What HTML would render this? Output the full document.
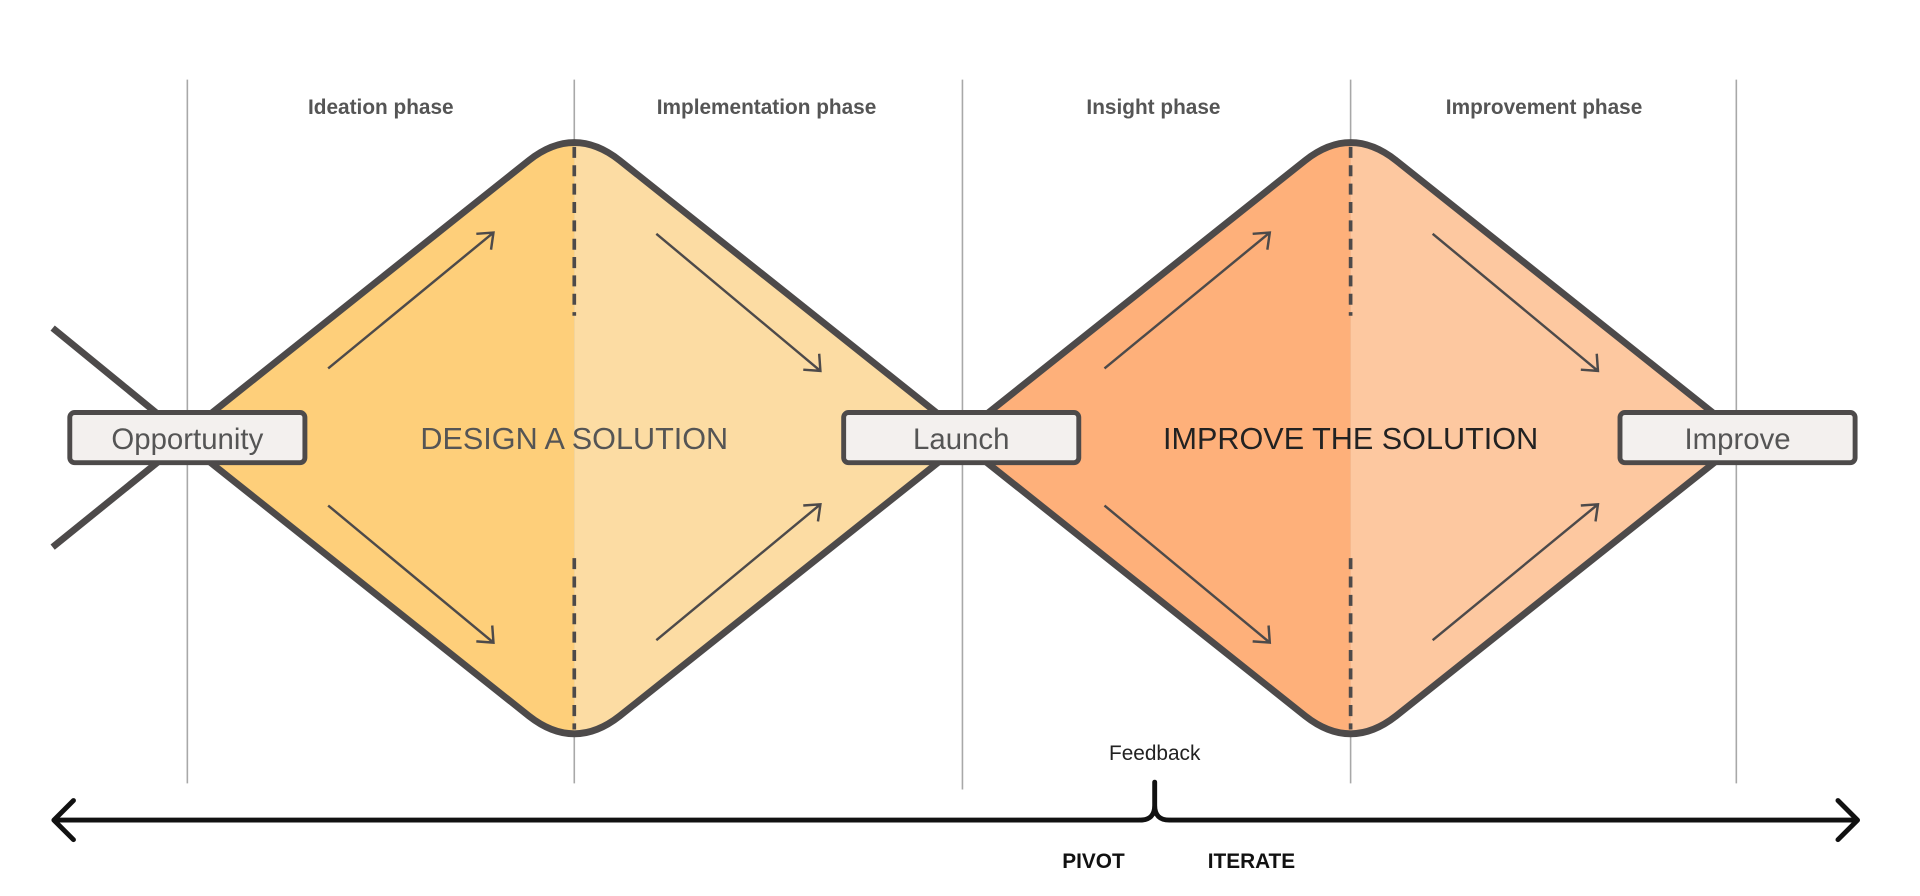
<!DOCTYPE html>
<html><head><meta charset="utf-8"><style>
html,body{margin:0;padding:0;background:#fff;}
svg{display:block;}
text{font-family:"Liberation Sans","DejaVu Sans",sans-serif;}
</style></head><body>
<svg width="1920" height="896" viewBox="0 0 1568 732" preserveAspectRatio="none" xmlns="http://www.w3.org/2000/svg">
<defs>
<clipPath id="d1"><path d="M147 358 L432 131 Q469 102 506 131 L791 358 L506 585 Q469 614 432 585 Z"/></clipPath>
<clipPath id="d2"><path d="M781 358 L1066 131 Q1103 102 1140 131 L1425 358 L1140 585 Q1103 614 1066 585 Z"/></clipPath>
</defs>
<g stroke="#a8a8a8" stroke-width="1.3">
<line x1="153" y1="65" x2="153" y2="640"/>
<line x1="469" y1="65" x2="469" y2="640"/>
<line x1="786" y1="65" x2="786" y2="645"/>
<line x1="1103" y1="65" x2="1103" y2="640"/>
<line x1="1418" y1="65" x2="1418" y2="640"/>
</g>
<g font-size="17" font-weight="bold" fill="#555" text-anchor="middle">
<text x="311" y="93">Ideation phase</text>
<text x="626" y="93">Implementation phase</text>
<text x="942" y="93">Insight phase</text>
<text x="1261" y="93">Improvement phase</text>
</g>
<g clip-path="url(#d1)"><rect x="140" y="100" width="329" height="520" fill="#fecf7a"/><rect x="469" y="100" width="330" height="520" fill="#fcdca3"/></g>
<g clip-path="url(#d2)"><rect x="774" y="100" width="329" height="520" fill="#feb07a"/><rect x="1103" y="100" width="330" height="520" fill="#fdc8a0"/></g>
<g fill="none" stroke="#4d4a4a" stroke-width="5.5" stroke-linejoin="round">
<path d="M147 358 L432 131 Q469 102 506 131 L791 358 L506 585 Q469 614 432 585 Z"/>
<path d="M781 358 L1066 131 Q1103 102 1140 131 L1425 358 L1140 585 Q1103 614 1066 585 Z"/>
<line x1="43" y1="268" x2="153" y2="358"/>
<line x1="43" y1="447" x2="153" y2="358"/>
</g>
<g stroke="#4d4a4a" stroke-width="3" stroke-dasharray="9 6">
<line x1="469" y1="120" x2="469" y2="258"/><line x1="469" y1="456" x2="469" y2="596"/>
<line x1="1103" y1="120" x2="1103" y2="258"/><line x1="1103" y1="456" x2="1103" y2="596"/>
</g>
<g stroke="#4d4a4a" stroke-width="2" fill="none">
<path d="M268 301 L403 190 M389 191 L403 190 L401 204"/>
<path d="M536 191 L670 303 M656 302 L670 303 L669 289"/>
<path d="M268 413 L403 525 M389 524 L403 525 L402 511"/>
<path d="M536 523 L670 412 M656 413 L670 412 L668 426"/>
<path d="M902 301 L1037 190 M1023 191 L1037 190 L1035 204"/>
<path d="M1170 191 L1305 303 M1291 302 L1305 303 L1304 289"/>
<path d="M902 413 L1037 525 M1023 524 L1037 525 L1036 511"/>
<path d="M1170 523 L1305 412 M1291 413 L1305 412 L1303 426"/>
</g>
<g fill="#f3f0ee" stroke="#4d4a4a" stroke-width="4">
<rect x="57" y="337" width="192" height="41" rx="4"/>
<rect x="689" y="337" width="192" height="41" rx="4"/>
<rect x="1323" y="337" width="192" height="41" rx="4"/>
</g>
<g font-size="24" fill="#555" text-anchor="middle">
<text x="153" y="367">Opportunity</text>
<text x="785" y="367">Launch</text>
<text x="1419" y="367">Improve</text>
<text x="469" y="367" font-size="25">DESIGN A SOLUTION</text>
<text x="1103" y="367" font-size="25" fill="#222">IMPROVE THE SOLUTION</text>
</g>
<text x="943" y="621" font-size="17" fill="#222" text-anchor="middle">Feedback</text>
<g fill="none" stroke="#111" stroke-width="4" stroke-linecap="round" stroke-linejoin="round">
<line x1="45" y1="670" x2="930" y2="670"/>
<line x1="956" y1="670" x2="1516" y2="670"/>
<path d="M60 654 L44 670 L60 686"/>
<path d="M1501 654 L1517 670 L1501 686"/>
<path d="M943 639 L943 658 Q943 670 931 670 M943 658 Q943 670 955 670"/>
</g>
<g font-size="17" font-weight="bold" fill="#111" text-anchor="middle">
<text x="893" y="709">PIVOT</text>
<text x="1022" y="709">ITERATE</text>
</g>
</svg>
</body></html>
